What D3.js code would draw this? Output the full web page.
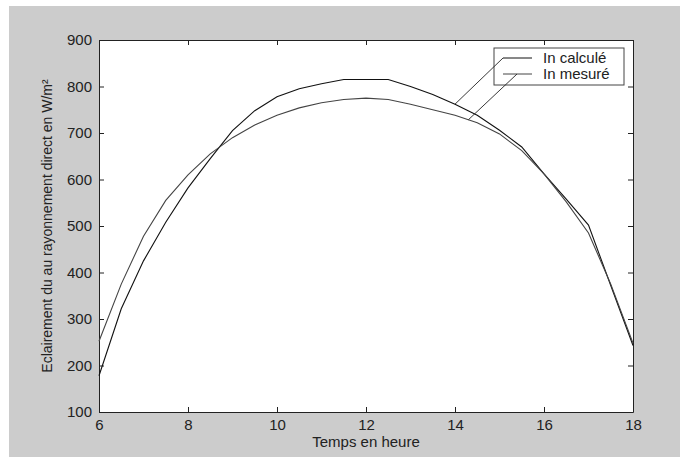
<!DOCTYPE html>
<html>
<head>
<meta charset="utf-8">
<script src="https://cdnjs.cloudflare.com/ajax/libs/d3/7.8.5/d3.min.js"></script>
<style>
  body { margin: 0; background: #fff; }
  text { font-family: "Liberation Sans", Arial, sans-serif; fill: #222; }
</style>
</head>
<body>
<div id="chart"></div>
<script>
var w = 680,
    h = 457;

// heures (pas d'une demi-heure)
var hours = [6, 6.5, 7, 7.5, 8, 8.5, 9, 9.5, 10, 10.5, 11, 11.5, 12,
             12.5, 13, 13.5, 14, 14.5, 15, 15.5, 16, 16.5, 17, 17.5, 18];

var calcule = [178, 322, 425, 508, 582, 645, 705, 748, 778, 795, 806, 815, 815,
               815, 800, 783, 762, 738, 706, 670, 612, 558, 502, 372, 243];

var mesure = [252, 375, 478, 555, 610, 655, 690, 717, 738, 754, 765, 772, 775,
              772, 762, 750, 738, 722, 698, 662, 612, 552, 485, 375, 248];

var xTicks = [6, 8, 10, 12, 14, 16, 18];
var yTicks = [100, 200, 300, 400, 500, 600, 700, 800, 900];

var series = [
  { name: "In calculé", values: calcule, color: "#111", pointAt: 14 },
  { name: "In mesuré", values: mesure, color: "#444", pointAt: 14.3 }
];

var m = { left: 99, top: 40, right: 633, bottom: 412 };

var svg = d3.select("#chart").append("svg")
  .attr("width", w)
  .attr("height", h);

// fond gris de la figure
svg.append("rect")
  .attr("x", 9).attr("y", 6)
  .attr("width", w - 9).attr("height", h - 6)
  .attr("fill", "#cccccc");

var x = d3.scaleLinear().domain([6, 18]).range([m.left, m.right]);
var y = d3.scaleLinear().domain([100, 900]).range([m.bottom, m.top]);

svg.append("rect")
  .attr("x", m.left).attr("y", m.top)
  .attr("width", m.right - m.left).attr("height", m.bottom - m.top)
  .attr("fill", "#fff");

// axes avec graduations vers l'intérieur, sur les 4 côtés
var xAxis = svg.append("g")
  .attr("transform", "translate(0," + m.bottom + ")")
  .call(d3.axisBottom(x).tickValues(xTicks).tickSizeInner(-5).tickSizeOuter(0).tickPadding(7));
var xTop = svg.append("g")
  .attr("transform", "translate(0," + m.top + ")")
  .call(d3.axisTop(x).tickValues(xTicks).tickSizeInner(-5).tickSizeOuter(0).tickFormat(""));
var yAxis = svg.append("g")
  .attr("transform", "translate(" + m.left + ",0)")
  .call(d3.axisLeft(y).tickValues(yTicks).tickSizeInner(-5).tickSizeOuter(0).tickPadding(7));
var yRight = svg.append("g")
  .attr("transform", "translate(" + m.right + ",0)")
  .call(d3.axisRight(y).tickValues(yTicks).tickSizeInner(-5).tickSizeOuter(0).tickFormat(""));

svg.selectAll(".domain").attr("stroke", "#222");
svg.selectAll(".tick line").attr("stroke", "#222");
svg.selectAll(".tick text")
  .style("font-size", "15px")
  .attr("fill", "#222");

var line = d3.line()
  .x(function(d, i) { return x(hours[i]); })
  .y(function(d) { return y(d); });

svg.selectAll(".serie")
  .data(series)
  .enter().append("path")
  .attr("class", "serie")
  .attr("d", function(d) { return line(d.values); })
  .attr("fill", "none")
  .attr("stroke", function(d) { return d.color; })
  .attr("stroke-width", 1.1);

// légende
var lg = { x: 494, y: 48, w: 130, h: 37 };
svg.append("rect")
  .attr("x", lg.x).attr("y", lg.y)
  .attr("width", lg.w).attr("height", lg.h)
  .attr("fill", "#fff")
  .attr("stroke", "#444");

series.forEach(function(s, i) {
  var ly = lg.y + 10 + i * 16;
  svg.append("line")
    .attr("x1", lg.x + 9).attr("x2", lg.x + 38)
    .attr("y1", ly).attr("y2", ly)
    .attr("stroke", s.color);
  svg.append("text")
    .attr("x", lg.x + 49).attr("y", ly + 5)
    .style("font-size", "15px")
    .text(s.name);

  // trait reliant la légende à la courbe
  var v = d3.scaleLinear().domain(hours).range(s.values)(s.pointAt);
  svg.append("line")
    .attr("x1", lg.x + 9 + i * 14).attr("y1", ly)
    .attr("x2", x(s.pointAt)).attr("y2", y(v))
    .attr("stroke", "#222")
    .attr("stroke-width", 0.9);
});

svg.append("text")
  .attr("x", (m.left + m.right) / 2)
  .attr("y", 447)
  .attr("text-anchor", "middle")
  .style("font-size", "15px")
  .text("Temps en heure");

svg.append("text")
  .attr("transform", "translate(52," + (m.top + m.bottom) / 2 + ") rotate(-90)")
  .attr("text-anchor", "middle")
  .style("font-size", "14px")
  .text("Eclairement du au rayonnement direct en W/m²");
</script>
</body>
</html>
